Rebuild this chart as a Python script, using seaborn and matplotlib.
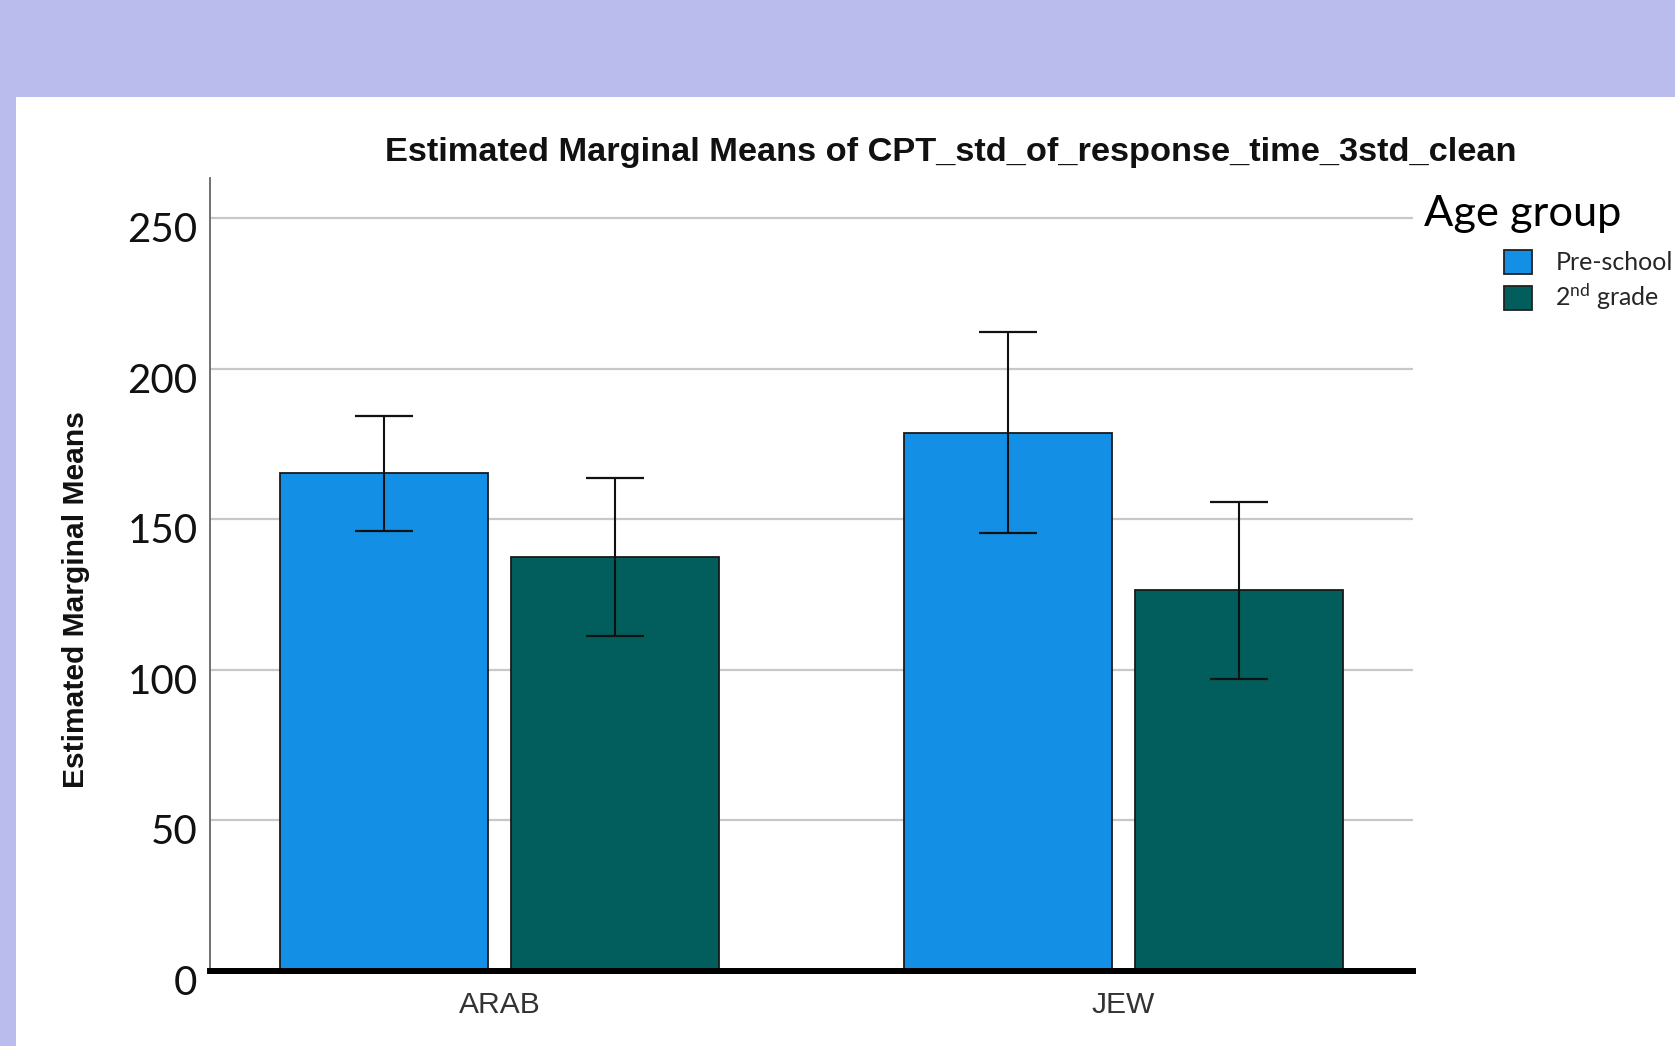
import matplotlib
matplotlib.use("Agg")
import matplotlib.pyplot as plt
import seaborn as sns
import pandas as pd
from matplotlib.patches import Rectangle, Patch
from matplotlib.transforms import blended_transform_factory, ScaledTranslation

# ---- data ----
groups = ["ARAB", "JEW"]
age_levels = ["Pre-school", "2nd grade"]
means_pre = [165.2, 178.6]
means_2nd = [137.6, 126.4]
lower_pre = [146.1, 145.4]
upper_pre = [184.4, 212.2]
lower_2nd = [111.3, 97.0]
upper_2nd = [163.8, 155.8]
yticks = [0, 50, 100, 150, 200, 250]

title_text = "Estimated Marginal Means of CPT_std_of_response_time_3std_clean"
ylabel_text = "Estimated Marginal Means"
legend_title = "Age group"
legend_labels = ["Pre-school", "2$^{\\mathrm{nd}}$ grade"]
colors = ["#1390E6", "#025E5C"]

df = pd.DataFrame({
    "group": groups * 2,
    "age": [age_levels[0]] * 2 + [age_levels[1]] * 2,
    "mean": means_pre + means_2nd,
})
lows = [lower_pre, lower_2nd]
highs = [upper_pre, upper_2nd]
means = [means_pre, means_2nd]

sns.set_style("white")
plt.rcParams["font.family"] = ["Liberation Sans", "DejaVu Sans"]
plt.rcParams["mathtext.fontset"] = "custom"
plt.rcParams["mathtext.rm"] = "Lato"
plt.rcParams["mathtext.it"] = "Lato:italic"
plt.rcParams["mathtext.bf"] = "Lato:bold"

W, H = 1675, 1046
fig = plt.figure(figsize=(W / 100, H / 100), dpi=100, facecolor="#BBBCEE")
fig.patches.append(Rectangle((16 / W, 0), 1 - 16 / W, 1 - 97 / H,
                             transform=fig.transFigure, facecolor="white",
                             edgecolor="none", zorder=-10))

ax_left, ax_right = 210 / W, 1413 / W
ax_bottom, ax_top = 1 - 971 / H, 1 - 178 / H
ax = fig.add_axes([ax_left, ax_bottom, ax_right - ax_left, ax_top - ax_bottom])
ax.set_facecolor("none")
ax.set_zorder(1)

sns.barplot(data=df, x="group", y="mean", hue="age", hue_order=age_levels,
            palette=colors, width=0.74, gap=0.1, errorbar=None,
            edgecolor="#1a1a1a", linewidth=1.3, legend=False, ax=ax,
            saturation=1, zorder=3)

bar_conts = list(ax.containers)
for i, cont in enumerate(bar_conts):
    xs = [b.get_x() + b.get_width() / 2 for b in cont]
    m = means[i]
    yerr = [[m[j] - lows[i][j] for j in range(len(m))],
            [highs[i][j] - m[j] for j in range(len(m))]]
    ax.errorbar(xs, m, yerr=yerr, fmt="none", ecolor="#111111",
                elinewidth=1.5, capsize=21, capthick=1.6, zorder=4)

ax.set_xlim(-0.464, 1.464)
ax.set_ylim(0, 263.3)
ax.set_yticks(yticks)
ax.set_yticklabels([str(v) for v in yticks], fontfamily="Lato", fontsize=29,
                   color="#111111")
ax.tick_params(axis="y", length=0, pad=9)
ax.tick_params(axis="x", length=0)
shift = ScaledTranslation(0, -9 / 100, fig.dpi_scale_trans)
for lab in ax.get_yticklabels():
    lab.set_transform(lab.get_transform() + shift)
ax.set_xlabel("")
ax.set_ylabel("")
ax.set_xticks([])
ax.yaxis.grid(True, color="#C8C8C8", linewidth=1.6, zorder=0)
ax.set_axisbelow(True)
for s in ["top", "right"]:
    ax.spines[s].set_visible(False)
ax.spines["left"].set_color("#666666")
ax.spines["left"].set_linewidth(1.3)
ax.spines["bottom"].set_color("#000000")
ax.spines["bottom"].set_linewidth(4.3)
ax.spines["bottom"].set_zorder(5)

renderer = fig.canvas.get_renderer()


def fit(t, target, dim="w"):
    for _ in range(3):
        bb = t.get_window_extent(renderer)
        cur = bb.width if dim == "w" else bb.height
        t.set_fontsize(t.get_fontsize() * target / cur)


# x category labels at library category positions
xtr = blended_transform_factory(ax.transData, fig.transFigure)
xt_texts = []
for k, g in enumerate(groups):
    t = fig.text(k, 1 - 1005 / H, g, transform=xtr,
                 ha="center", va="center", fontsize=22, color="#333333",
                 fontfamily="Liberation Sans")
    xt_texts.append(t)
fit(xt_texts[0], 82)
for t in xt_texts[1:]:
    t.set_fontsize(xt_texts[0].get_fontsize())

title = fig.text(951 / W, 1 - 152 / H, title_text, ha="center", va="center",
                 fontsize=22, fontweight="bold", color="#111111")
fit(title, 1132)

ylab = fig.text(76 / W, 1 - 600 / H, ylabel_text, rotation=90, ha="center",
                va="center", fontsize=22, fontweight="bold", color="#111111")
fit(ylab, 376, "h")

lt = fig.text(1424 / W, 1 - 214 / H, legend_title, ha="left", va="center",
              fontsize=30, fontfamily="Lato", color="#000000")
fit(lt, 197)

handles = [Patch(facecolor=c, edgecolor="#222222", linewidth=1.3) for c in colors]
leg = fig.legend(handles, legend_labels, loc="upper left",
                 bbox_to_anchor=(1504 / W, 1 - 250 / H), frameon=False,
                 prop={"family": "Lato", "size": 18}, handlelength=1.1,
                 handleheight=1.1, handletextpad=0.95, labelspacing=0.3,
                 borderpad=0, borderaxespad=0)

fig.savefig("out.png", dpi=100, facecolor=fig.get_facecolor())
